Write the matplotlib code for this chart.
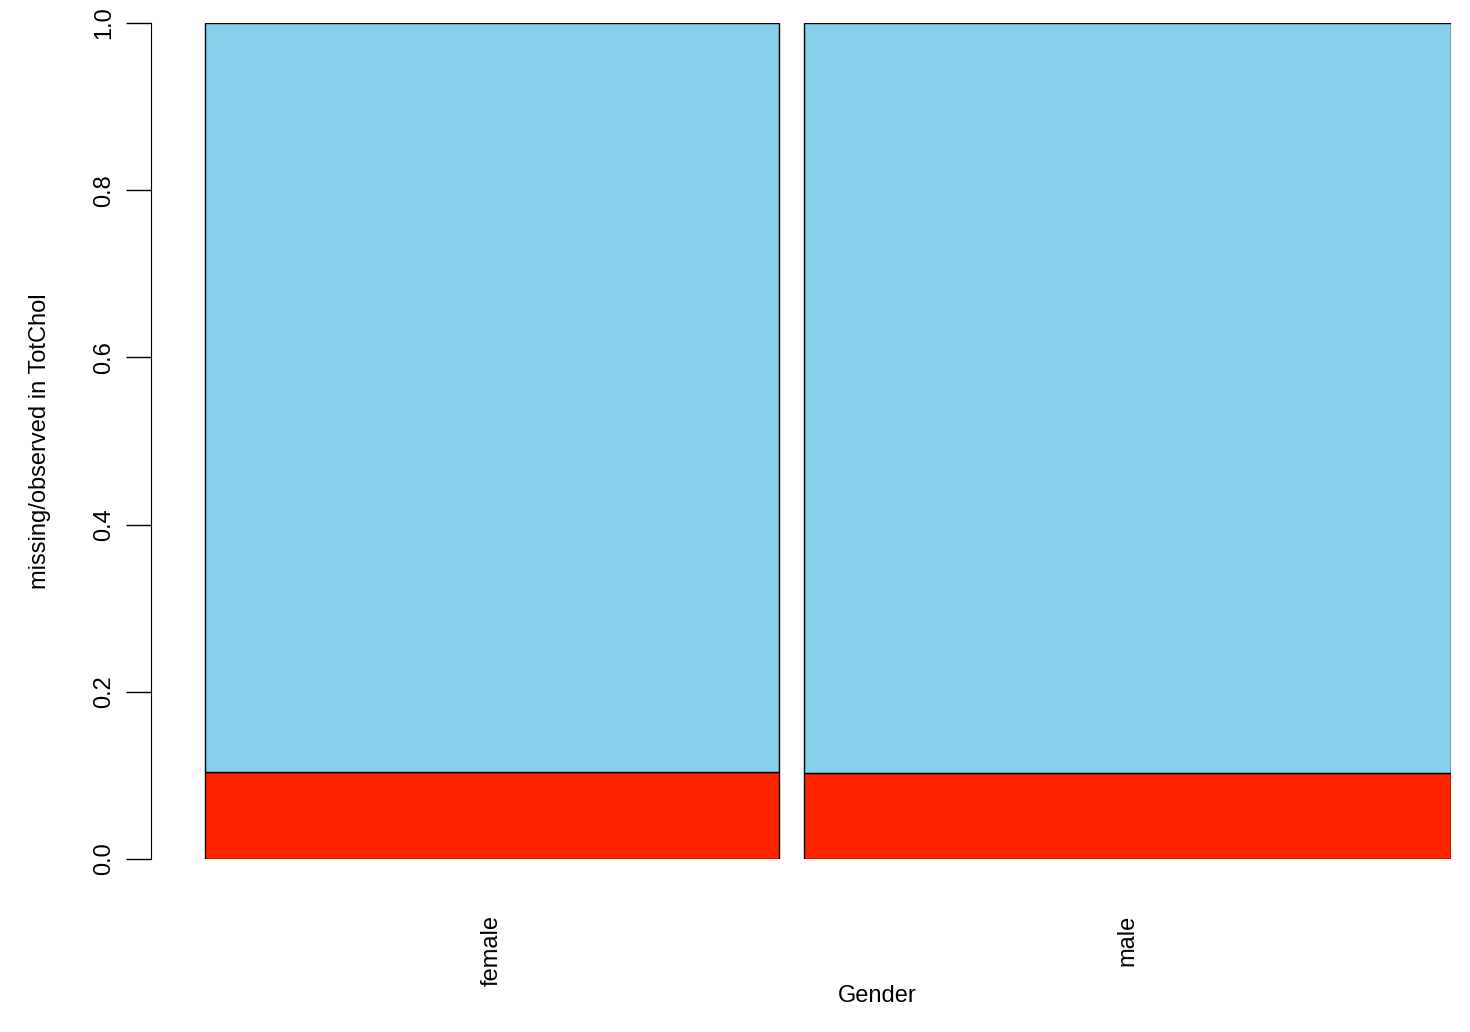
import matplotlib
matplotlib.use("Agg")
import matplotlib.pyplot as plt

categories = ["female", "male"]
widths = [0.470, 0.530]          # relative group sizes
missing = [0.104, 0.103]         # proportion missing in TotChol
gap = 0.0205

plt.rcParams['font.family'] = ['Liberation Sans', 'DejaVu Sans']
fig = plt.figure(figsize=(14.7, 10.32), dpi=100)
ax = fig.add_axes([151/1470, 1-859/1032, (1451-151)/1470, 836/1032])

lefts = []
x = 0.0
for w in widths:
    lefts.append(x)
    x += w + gap
observed = [1 - m for m in missing]
ax.bar(lefts, missing, width=widths, align='edge', color='#FF2400', edgecolor='black', linewidth=1)
ax.bar(lefts, observed, bottom=missing, width=widths, align='edge', color='#87CEEB', edgecolor='black', linewidth=1)

ax.set_xlim(-0.0442, 1 + gap)
ax.set_ylim(0, 1)
for s in ['top', 'right', 'bottom']:
    ax.spines[s].set_visible(False)
ax.spines['left'].set_bounds(0, 1)
ax.set_yticks([0, 0.2, 0.4, 0.6, 0.8, 1.0])
ax.set_yticklabels(['0.0', '0.2', '0.4', '0.6', '0.8', '1.0'], rotation=90, va='center')
ax.tick_params(axis='y', length=18, width=1, labelsize=17, pad=8)
ax.set_xticks([l + w/2 for l, w in zip(lefts, widths)])
ax.set_xticklabels(categories, rotation=90, va='top')
ax.tick_params(axis='x', length=0, labelsize=17, pad=40)
ax.set_ylabel('missing/observed in TotChol', fontsize=17, labelpad=30)
fig.text(877/1470, 1-996/1032, 'Gender', fontsize=17, ha='center', va='center')
fig.savefig('out.png', dpi=100)
